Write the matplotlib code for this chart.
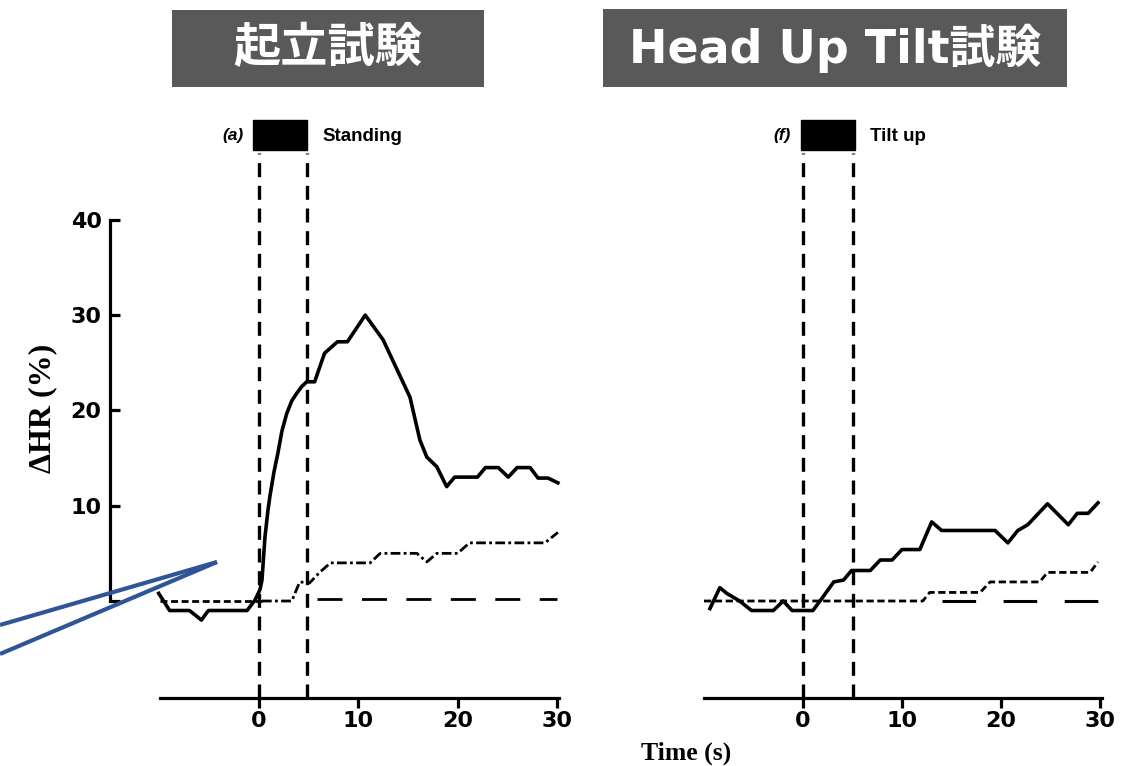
import matplotlib
matplotlib.use("Agg")
import matplotlib.pyplot as plt
from matplotlib.lines import Line2D
from matplotlib.patches import Rectangle

# ---------------- data ----------------
titles = ["起立試験", "Head Up Tilt試験"]
panel_tags = ["(a)", "(f)"]
event_labels = ["Standing", "Tilt up"]
x_ticks = [0, 10, 20, 30]
y_ticks = [0, 10, 20, 30, 40]
y_tick_labels = ["", "10", "20", "30", "40"]
y_label = "ΔHR (%)"
x_label = "Time (s)"

# Standing: solid curve
stand_t = [-10.1, -9.0, -7.0, -5.8, -5.1, -1.2, -0.4, 0.1, 0.3, 0.6, 0.9, 1.1, 1.5, 1.9, 2.3,
           2.8, 3.3, 3.8, 4.3, 4.8, 5.6, 6.6, 7.9, 8.9, 10.7, 12.5, 15.2, 16.2, 16.9, 17.9,
           18.9, 19.7, 22.0, 22.8, 24.1, 25.1, 26.0, 27.3, 28.1, 29.1, 30.1]
stand_hr = [0.8, -1.0, -1.0, -2.0, -1.0, -1.0, 0.1, 1.2, 2.2, 6.7, 9.5, 11.0, 13.5, 15.5, 17.8,
            19.7, 21.0, 21.8, 22.5, 23.0, 23.0, 26.0, 27.2, 27.2, 30.0, 27.4, 21.4, 16.9, 15.1, 14.1,
            12.0, 13.0, 13.0, 14.0, 14.0, 13.0, 14.0, 14.0, 12.9, 12.9, 12.4]
# Standing: dash-dot curve
stand2_t = [0.3, 3.3, 4.1, 5.1, 6.1, 7.2, 11.2, 12.2, 15.9, 16.9, 17.9, 20.0, 21.2, 28.8, 30.1]
stand2_hr = [0.0, 0.0, 2.0, 1.9, 3.0, 4.0, 4.0, 5.0, 5.0, 4.1, 5.0, 5.0, 6.1, 6.1, 7.2]
# Standing: baseline (short dashes before, long dashes after)
stand_base_pre_t = [-10.0, 0.3]
stand_base_pre = [0.0, 0.0]
stand_base_post_t = [5.8, 30.0]
stand_base_post = [0.2, 0.2]

# Tilt: solid curve
tilt_t = [-9.4, -8.4, -7.7, -6.4, -5.2, -3.0, -2.0, -1.1, 1.0, 2.0, 3.1, 4.1, 4.9, 6.8, 7.8,
          9.0, 10.0, 11.8, 13.0, 14.0, 19.4, 20.7, 21.7, 22.7, 24.7, 26.8, 27.7, 28.8, 29.8]
tilt_hr = [-0.8, 1.4, 0.8, 0.0, -1.0, -1.0, 0.0, -1.0, -1.0, 0.4, 2.0, 2.2, 3.2, 3.2, 4.3,
           4.3, 5.4, 5.4, 8.3, 7.4, 7.4, 6.1, 7.4, 8.0, 10.2, 8.0, 9.2, 9.2, 10.3]
# Tilt: dashed curve
tilt2_t = [-10.0, 12.1, 12.8, 17.9, 18.9, 23.9, 24.7, 29.0, 29.8]
tilt2_hr = [0.0, 0.0, 0.9, 0.9, 2.0, 2.0, 3.0, 3.0, 4.1]
# Tilt: baseline long dashes
tilt_base_post_t = [14.0, 30.0]
tilt_base_post = [0.0, 0.0]

# event markers (s)
stand_event = [0.0, 4.8]
tilt_event = [0.0, 5.0]

# ---------------- layout ----------------
W, H = 1121, 766
fig = plt.figure(figsize=(W / 100, H / 100), dpi=100)
fig.patch.set_facecolor("white")

Y0, SY = 601.0, 9.53  # pixel row of 0 and px per unit


def px_axes(x0, x1, y0, y1, xzero, sx):
    ax = fig.add_axes([x0 / W, 1 - y1 / H, (x1 - x0) / W, (y1 - y0) / H])
    ax.set_xlim((x0 - xzero) / sx, (x1 - xzero) / sx)
    ax.set_ylim((Y0 - y1) / SY, (Y0 - y0) / SY)
    ax.patch.set_alpha(0)
    for s in ax.spines.values():
        s.set_visible(False)
    return ax


axL = px_axes(100, 580, 100, 720, 259.0, 9.93)
axR = px_axes(690, 1115, 100, 720, 803.0, 9.9)

tick_font = dict(family="DejaVu Sans", weight="bold", size=16)
LW_AX = 2.3
LW = 2.6

for ax in (axL, axR):
    sp = ax.spines["bottom"]
    sp.set_visible(True)
    sp.set_position(("data", -10.2))
    sp.set_bounds(-10, 30.2)
    sp.set_linewidth(LW_AX)
    ax.set_xticks(x_ticks)
    ax.set_xticklabels([str(v) for v in x_ticks], fontdict=tick_font)
    ax.tick_params(axis="x", direction="out", length=7, width=LW_AX, pad=2)
    ax.set_yticks([])

sp = axL.spines["left"]
sp.set_visible(True)
sp.set_position(("data", -15))
sp.set_bounds(0, 40)
sp.set_linewidth(LW_AX)
axL.set_yticks(y_ticks)
axL.set_yticklabels(y_tick_labels, fontdict=tick_font)
axL.tick_params(axis="y", direction="in", length=7, width=LW_AX, pad=6)

# ---- left panel curves
axL.plot(stand_t, stand_hr, color="black", lw=LW, clip_on=False, solid_joinstyle="round")
axL.plot(stand2_t, stand2_hr, color="black", lw=2.0, dashes=(3.5, 1.2, 1.0, 1.2), clip_on=False)
axL.plot(stand_base_pre_t, stand_base_pre, color="black", lw=2.0, dashes=(2.5, 1.3), clip_on=False)
axL.plot(stand_base_post_t, stand_base_post, color="black", lw=2.0, dashes=(9, 7), clip_on=False)

# ---- right panel curves
axR.plot(tilt_t, tilt_hr, color="black", lw=LW, clip_on=False, solid_joinstyle="round")
axR.plot(tilt2_t, tilt2_hr, color="black", lw=2.0, dashes=(2.6, 1.3), clip_on=False)
axR.plot(tilt_base_post_t, tilt_base_post, color="black", lw=2.2, dashes=(11, 9), clip_on=False)

# ---- event markers
for ax, ev, tag, lab, rect in ((axL, stand_event, panel_tags[0], event_labels[0], (-0.6, 4.85)),
                               (axR, tilt_event, panel_tags[1], event_labels[1], (-0.2, 5.25))):
    for t in ev:
        ax.plot([t, t], [-10.2, 47.0], color="black", lw=2.4, dashes=(4.2, 2.6), clip_on=False)
    ax.add_patch(Rectangle((rect[0], 47.3), rect[1] - rect[0], 3.2, facecolor="black",
                           edgecolor="black", clip_on=False))
    ax.text(rect[0] - 1.0, 48.8, tag, ha="right", va="center", family="Liberation Sans",
            style="italic", weight="bold", fontsize=12.5)
    ax.text(rect[1] + 1.5, 48.7, lab, ha="left", va="center", family="Liberation Sans",
            weight="bold", fontsize=13.5)

# ---- axis labels
fig.text(43 / W, 1 - 408 / H, y_label, rotation=90, ha="center", va="center",
         family="Liberation Serif", weight="bold", fontsize=23)
fig.text(686 / W, 1 - 753 / H, x_label, ha="center", va="center",
         family="Liberation Serif", weight="bold", fontsize=18.5)

# ---- title boxes
for (x0, x1, y0, y1), txt, fam, fs in (
        ((172, 484, 10, 87), titles[0], ["Noto Sans CJK JP"], 34),
        ((603, 1067, 9, 87), titles[1], ["DejaVu Sans", "Noto Sans CJK JP"], 33)):
    fig.add_artist(Rectangle((x0 / W, 1 - y1 / H), (x1 - x0) / W, (y1 - y0) / H,
                             transform=fig.transFigure, facecolor="#595959", edgecolor="none"))
    fig.text((x0 + x1) / 2 / W, 1 - (y0 + y1) / 2 / H, txt, ha="center", va="center",
             color="white", family=fam, weight="bold", fontsize=fs)

# ---- blue pointer lines
blue = "#2F5597"
for y_start in (625, 654):
    fig.add_artist(Line2D([0 / W, 217 / W], [1 - y_start / H, 1 - 562 / H],
                          transform=fig.transFigure, color=blue, lw=3.0,
                          solid_capstyle="butt", zorder=10))

fig.savefig("out.png", dpi=100)
